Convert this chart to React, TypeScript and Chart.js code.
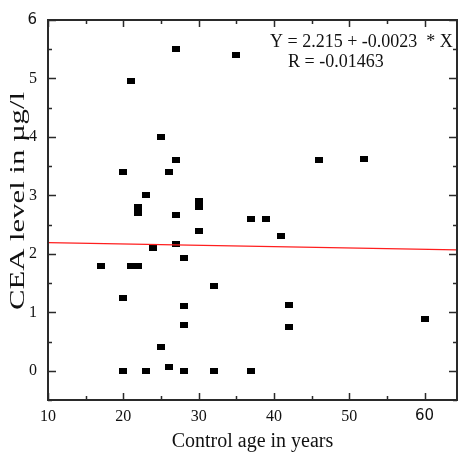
import React, { useEffect, useRef } from "react";
import { Chart, registerables } from "chart.js";
Chart.register(...registerables);

// Control age (years) and CEA level (µg/l)
const ageYears = [27, 21, 35, 25, 20, 26, 27, 23, 22, 22, 27, 30, 30, 46, 52, 37, 39, 41, 30, 27, 24, 28, 17, 21, 22, 32, 20, 28, 28, 42, 42, 60, 25, 26, 20, 23, 28, 32, 37];
const ceaLevels = [5.5, 4.96, 5.4, 4.0, 3.4, 3.4, 3.6, 3.0, 2.8, 2.7, 2.67, 2.91, 2.8, 3.6, 3.63, 2.6, 2.6, 2.3, 2.39, 2.17, 2.1, 1.93, 1.8, 1.8, 1.8, 1.45, 1.25, 1.1, 0.78, 1.12, 0.75, 0.88, 0.4, 0.07, 0, 0, 0, 0, 0];

// Regression line end points (Y = 2.215 - 0.0023 X)
const fitX = [10, 64.3];
const fitY = [2.192, 2.067];

const xTickValues = [10, 20, 30, 40, 50, 60];
const yTickValues = [0, 1, 2, 3, 4, 5, 6];
const equationLines = ["Y = 2.215 + -0.0023  * X", "R = -0.01463"];
const xTitle = "Control age in years";
const yTitle = "CEA level in µg/l";

const SERIF = "'Liberation Serif', 'Times New Roman', serif";
const SANS = "'DejaVu Sans', Verdana, sans-serif";

export default function App() {
  const ref = useRef<HTMLCanvasElement | null>(null);
  useEffect(() => {
    const canvas = ref.current;
    if (!canvas) return;

    const marker = document.createElement("canvas");
    marker.width = 8;
    marker.height = 6;
    const mctx = marker.getContext("2d")!;
    mctx.fillStyle = "#000";
    mctx.fillRect(0, 0, 8, 6);

    const framePlugin = {
      id: "frame",
      afterDraw(chart: any) {
        const { ctx, chartArea: a, scales } = chart;
        const xs = scales.x;
        const ys = scales.y;
        ctx.save();
        ctx.strokeStyle = "#2a2a2a";
        ctx.lineWidth = 2;
        ctx.strokeRect(a.left, a.top, a.right - a.left, a.bottom - a.top);
        ctx.lineWidth = 1.5;
        ctx.beginPath();
        for (let v = 10; v <= 64; v += 5) {
          const px = Math.round(xs.getPixelForValue(v)) + 0.5;
          const len = v % 10 === 0 ? 7 : 4;
          ctx.moveTo(px, a.bottom);
          ctx.lineTo(px, a.bottom - len);
          ctx.moveTo(px, a.top);
          ctx.lineTo(px, a.top + len);
        }
        for (let v = -0.5; v <= 6; v += 0.5) {
          const py = Math.round(ys.getPixelForValue(v)) + 0.5;
          const len = Number.isInteger(v) ? 8 : 4;
          ctx.moveTo(a.left, py);
          ctx.lineTo(a.left + len, py);
          ctx.moveTo(a.right, py);
          ctx.lineTo(a.right - len, py);
        }
        ctx.stroke();

        // y axis title (stretched along its length like the reference)
        ctx.fillStyle = "#111";
        ctx.font = "21px " + SERIF;
        const w = ctx.measureText(yTitle).width;
        ctx.translate(18, 201);
        ctx.rotate(-Math.PI / 2);
        ctx.scale(218 / w, 1);
        ctx.textAlign = "center";
        ctx.textBaseline = "middle";
        ctx.fillText(yTitle, 0, 0);
        ctx.restore();

        // regression equation
        ctx.save();
        ctx.fillStyle = "#111";
        ctx.font = "18px " + SERIF;
        ctx.textAlign = "left";
        ctx.textBaseline = "alphabetic";
        ctx.fillText(equationLines[0], 270, 47);
        ctx.fillText(equationLines[1], 288, 67);
        ctx.restore();
      },
    };

    const chart = new Chart(canvas, {
      type: "scatter",
      data: {
        datasets: [
          {
            type: "line",
            data: fitX.map((x, i) => ({ x, y: fitY[i] })),
            borderColor: "rgb(255,30,30)",
            borderWidth: 1.2,
            pointRadius: 0,
            fill: false,
          } as any,
          {
            data: ageYears.map((x, i) => ({ x, y: ceaLevels[i] })),
            pointStyle: marker as any,
            pointRadius: 4,
            backgroundColor: "#000",
            borderColor: "#000",
          },
        ],
      },
      options: {
        animation: false,
        responsive: false,
        events: [],
        layout: { padding: { left: 0, right: 3, top: 15, bottom: 0 } },
        plugins: { legend: { display: false }, tooltip: { enabled: false } },
        scales: {
          x: {
            type: "linear",
            min: 10,
            max: 64.3,
            afterFit: (s: any) => {
              s.height = 52;
            },
            afterBuildTicks: (s: any) => {
              s.ticks = xTickValues.map((value) => ({ value }));
            },
            grid: { display: false, drawTicks: false },
            border: { display: false },
            ticks: {
              padding: 7,
              color: "#111",
              maxRotation: 0,
              autoSkip: false,
              font: (c: any) =>
                c.tick && c.tick.value === 60
                  ? { family: SANS, size: 15 }
                  : { family: SERIF, size: 16 },
            },
            title: {
              display: true,
              text: xTitle,
              color: "#111",
              font: { family: SERIF, size: 20, lineHeight: 1 },
              padding: { top: 0, bottom: 0 },
            },
          },
          y: {
            type: "linear",
            min: -0.5,
            max: 6,
            afterFit: (s: any) => {
              s.width = 48;
            },
            afterBuildTicks: (s: any) => {
              s.ticks = yTickValues.map((value) => ({ value }));
            },
            grid: { display: false, drawTicks: false },
            border: { display: false },
            ticks: {
              padding: 11,
              color: "#111",
              autoSkip: false,
              font: (c: any) =>
                c.tick && c.tick.value === 6
                  ? { family: SANS, size: 15 }
                  : { family: SERIF, size: 16 },
            },
          },
        },
      },
      plugins: [framePlugin],
    });
    return () => chart.destroy();
  }, []);

  return (
    <div style={{ position: "absolute", left: 0, top: 0, width: 462, height: 452, background: "#fff" }}>
      <canvas ref={ref} width={462} height={452} style={{ display: "block" }} />
    </div>
  );
}
